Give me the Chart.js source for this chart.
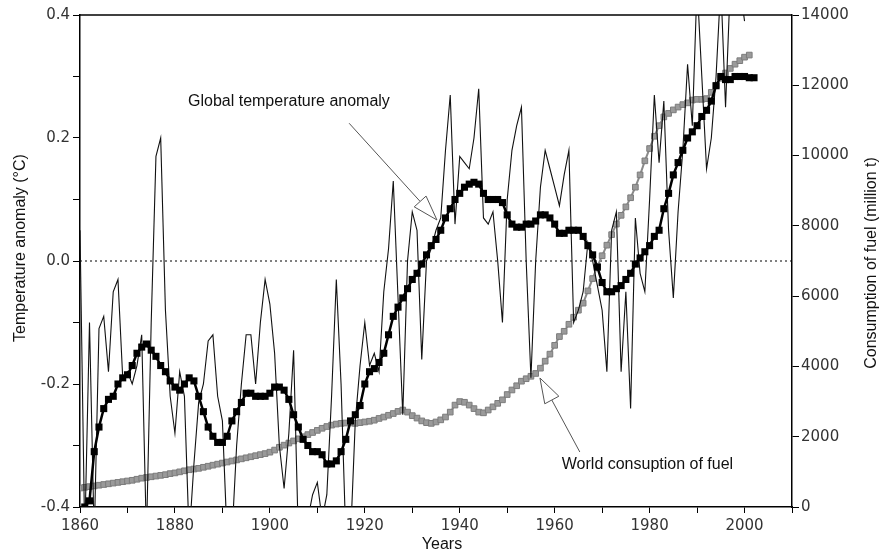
<!DOCTYPE html>
<html>
<head>
<meta charset="utf-8">
<script src="https://cdn.jsdelivr.net/npm/chart.js@4.4.1/dist/chart.umd.min.js"></script>
<style>html,body{margin:0;padding:0;background:#fff}canvas{display:block}</style>
</head>
<body>
<canvas id="chart" width="884" height="556"></canvas>
<script>
// annual temperature anomaly (°C), 1860..2000
const annualStart = 1860;
const annualAnomaly = [
  0.05, -0.45, -0.10, -0.45, -0.11, -0.09, -0.18, -0.05, -0.03, -0.19,
  -0.18, -0.20, -0.17, -0.12, -0.45, -0.10, 0.17, 0.20, -0.08, -0.22,
  -0.28, -0.18, -0.22, -0.45, -0.33, -0.23, -0.20, -0.13, -0.12, -0.22,
  -0.26, -0.45, -0.45, -0.30, -0.20, -0.12, -0.12, -0.20, -0.10, -0.03,
  -0.07, -0.15, -0.30, -0.37, -0.28, -0.145, -0.45, -0.45, -0.42, -0.38,
  -0.36, -0.42, -0.38, -0.22, -0.03, -0.20, -0.45, -0.45, -0.26, -0.17,
  -0.10, -0.17, -0.15, -0.18, -0.05, 0.02, 0.13, -0.06, -0.25, 0.00,
  0.08, 0.05, -0.16, 0.00, 0.02, 0.05, 0.07, 0.18, 0.27, 0.06,
  0.17, 0.16, 0.15, 0.20, 0.28, 0.07, 0.06, 0.08, 0.00, -0.10,
  0.10, 0.18, 0.22, 0.25, 0.00, -0.19, 0.00, 0.12, 0.18, 0.15,
  0.12, 0.09, 0.14, 0.18, -0.10, -0.08, -0.05, 0.03, 0.00, -0.04,
  -0.08, -0.18, 0.05, 0.08, -0.18, -0.05, -0.24, 0.07, -0.02, -0.05,
  0.10, 0.27, 0.16, 0.26, 0.05, -0.06, 0.08, 0.18, 0.32, 0.22,
  0.45, 0.30, 0.15, 0.20, 0.30, 0.45, 0.25, 0.45, 0.50, 0.45,
  0.39
];

// smoothed anomaly (°C), 1861..2002
const smoothStart = 1861;
const smoothedAnomaly = [
  -0.40, -0.39, -0.31, -0.27, -0.24, -0.225, -0.22, -0.20, -0.19, -0.185,
  -0.17, -0.15, -0.14, -0.135, -0.145, -0.155, -0.17, -0.18, -0.195, -0.205,
  -0.21, -0.20, -0.19, -0.195, -0.22, -0.245, -0.27, -0.285, -0.295, -0.295,
  -0.285, -0.26, -0.245, -0.23, -0.215, -0.215, -0.22, -0.22, -0.22, -0.215,
  -0.205, -0.205, -0.21, -0.225, -0.25, -0.27, -0.29, -0.30, -0.31, -0.31,
  -0.315, -0.33, -0.33, -0.325, -0.31, -0.29, -0.26, -0.25, -0.235, -0.20,
  -0.18, -0.175, -0.165, -0.15, -0.12, -0.09, -0.075, -0.06, -0.045, -0.03,
  -0.02, -0.005, 0.01, 0.025, 0.035, 0.05, 0.07, 0.085, 0.10, 0.11,
  0.12, 0.125, 0.128, 0.125, 0.11, 0.10, 0.10, 0.10, 0.095, 0.075,
  0.06, 0.055, 0.055, 0.06, 0.06, 0.065, 0.075, 0.075, 0.07, 0.06,
  0.045, 0.045, 0.05, 0.05, 0.05, 0.04, 0.025, 0.01, -0.01, -0.035,
  -0.05, -0.05, -0.045, -0.04, -0.03, -0.02, -0.005, 0.005, 0.015, 0.025,
  0.04, 0.05, 0.085, 0.11, 0.14, 0.16, 0.18, 0.20, 0.21, 0.22,
  0.235, 0.245, 0.26, 0.285, 0.30, 0.295, 0.295, 0.30, 0.30, 0.30,
  0.298, 0.298
];

// world fuel consumption (million t), 1860..2001
const fuelStart = 1860;
const fuelConsumption = [
  540, 560, 580, 600, 620, 640, 660, 680, 700, 720,
  740, 760, 790, 820, 840, 860, 880, 900, 920, 950,
  970, 1000, 1030, 1060, 1080, 1100, 1130, 1160, 1190, 1220,
  1250, 1280, 1310, 1340, 1370, 1400, 1430, 1460, 1490, 1520,
  1560, 1620, 1700, 1760, 1820, 1880, 1940, 2000, 2060, 2120,
  2180, 2240, 2290, 2330, 2360, 2380, 2390, 2390, 2380, 2400,
  2420, 2440, 2470, 2520, 2560, 2610, 2660, 2720, 2760, 2700,
  2600, 2530, 2450, 2400, 2380, 2420, 2480, 2560, 2700, 2900,
  3000, 2980, 2900, 2800, 2700, 2680, 2760, 2850, 2950, 3050,
  3200, 3330, 3450, 3580, 3650, 3720, 3800, 3950, 4150, 4350,
  4600, 4850, 5000, 5200, 5400, 5600, 5800, 6150, 6500, 6850,
  7150, 7450, 7750, 8050, 8300, 8540, 8800, 9100, 9450, 9850,
  10200, 10550, 10850, 11100, 11200, 11300, 11380, 11450, 11500, 11580,
  11600, 11600, 11620, 11800, 12000, 12200, 12350, 12480, 12600, 12700,
  12800, 12860
];

// text notes with arrows, placed in data units
const notes = [
  { text: 'Global temperature anomaly', axis: 'y', at: [1882.75, 0.2585], from: [1916.7, 0.224], tip: [1935.2, 0.0667] },
  { text: 'World consuption of fuel', axis: 'y2', at: [1961.5, 1195], from: [1965.3, 1565], tip: [1956.9, 3671] }
];

const toPoints = (start, vals) => vals.map((v, i) => ({ x: start + i, y: v }));

function drawArrow(ctx, fx, fy, tx, ty) {
  const ang = Math.atan2(ty - fy, tx - fx), len = 25, half = 8;
  const bx = tx - len * Math.cos(ang), by = ty - len * Math.sin(ang);
  ctx.strokeStyle = '#555';
  ctx.lineWidth = 1;
  ctx.beginPath(); ctx.moveTo(fx, fy); ctx.lineTo(bx, by); ctx.stroke();
  const nx = -Math.sin(ang) * half, ny = Math.cos(ang) * half;
  ctx.beginPath();
  ctx.moveTo(tx, ty); ctx.lineTo(bx + nx, by + ny); ctx.lineTo(bx - nx, by - ny);
  ctx.closePath();
  ctx.fillStyle = '#fff'; ctx.fill(); ctx.stroke();
}

const overlay = {
  id: 'overlay',
  beforeDatasetsDraw(chart) {
    const { ctx, chartArea: a, scales: { y } } = chart;
    const y0 = y.getPixelForValue(0);
    ctx.save();
    ctx.strokeStyle = '#000'; ctx.lineWidth = 1; ctx.setLineDash([2, 3]);
    ctx.beginPath(); ctx.moveTo(a.left, y0); ctx.lineTo(a.right, y0); ctx.stroke();
    ctx.restore();
  },
  afterDraw(chart) {
    const { ctx, chartArea: a, scales } = chart;
    ctx.save();
    // top frame line
    ctx.strokeStyle = '#000'; ctx.lineWidth = 1.5;
    ctx.beginPath(); ctx.moveTo(a.left, a.top); ctx.lineTo(a.right, a.top); ctx.stroke();

    ctx.font = '16px "Liberation Sans", Arial, sans-serif';
    ctx.fillStyle = '#111';
    ctx.textBaseline = 'middle';
    ctx.textAlign = 'center';
    ctx.save(); ctx.translate(21, 248); ctx.rotate(-Math.PI / 2);
    ctx.fillText('Temperature anomaly (°C)', 0, 0); ctx.restore();
    ctx.save(); ctx.translate(872, 263); ctx.rotate(-Math.PI / 2);
    ctx.fillText('Consumption of fuel (million t)', 0, 0); ctx.restore();
    ctx.fillText('Years', 442, 545);

    notes.forEach(n => {
      const ys = scales[n.axis], xs = scales.x;
      drawArrow(ctx, xs.getPixelForValue(n.from[0]), ys.getPixelForValue(n.from[1]),
        xs.getPixelForValue(n.tip[0]), ys.getPixelForValue(n.tip[1]));
      ctx.fillStyle = '#111';
      ctx.textAlign = 'left';
      ctx.fillText(n.text, xs.getPixelForValue(n.at[0]), ys.getPixelForValue(n.at[1]));
    });
    ctx.restore();
  }
};

const tickFont = { family: '"DejaVu Sans", sans-serif', size: 15 };
const axisGrid = { drawOnChartArea: false, drawTicks: true, tickLength: 7, color: '#000', lineWidth: 1 };
const axisBorder = { display: true, color: '#000', width: 1.5 };

new Chart(document.getElementById('chart'), {
  type: 'line',
  data: {
    datasets: [
      {
        label: 'Smoothed anomaly', yAxisID: 'y', data: toPoints(smoothStart, smoothedAnomaly),
        borderColor: '#000', borderWidth: 2.5, pointStyle: 'rect', pointRadius: 5,
        pointBackgroundColor: '#000', pointBorderColor: '#000', pointBorderWidth: 0, tension: 0
      },
      {
        label: 'Annual anomaly', yAxisID: 'y', data: toPoints(annualStart, annualAnomaly),
        borderColor: '#111', borderWidth: 1.1, pointRadius: 0, tension: 0
      },
      {
        label: 'Fuel', yAxisID: 'y2', data: toPoints(fuelStart, fuelConsumption),
        borderColor: '#8a8a8a', borderWidth: 2, pointStyle: 'rect', pointRadius: 4,
        pointBackgroundColor: '#9a9a9a', pointBorderColor: '#7c7c7c', pointBorderWidth: 1, tension: 0
      }
    ]
  },
  options: {
    responsive: false,
    devicePixelRatio: 1,
    animation: false,
    layout: { padding: { top: 15, left: 0, right: 0, bottom: 0 } },
    plugins: { legend: { display: false }, tooltip: { enabled: false } },
    scales: {
      x: {
        type: 'linear', min: 1860, max: 2010,
        grid: { ...axisGrid, tickLength: 6 }, border: axisBorder,
        ticks: {
          stepSize: 10, autoSkip: false, maxRotation: 0, padding: 4, color: '#333', font: tickFont,
          callback: v => (v % 20 === 0 ? String(v) : '')
        },
        afterFit: s => { s.height = 49; }
      },
      y: {
        position: 'left', min: -0.4, max: 0.4,
        grid: axisGrid, border: axisBorder,
        ticks: {
          stepSize: 0.1, autoSkip: false, padding: 3, color: '#333', font: tickFont,
          callback: v => { const r = Math.round(v * 10); return r % 2 === 0 ? (r / 10).toFixed(1) : ''; }
        },
        afterFit: s => { s.width = 80; }
      },
      y2: {
        position: 'right', min: 0, max: 14000,
        grid: axisGrid, border: axisBorder,
        ticks: { stepSize: 2000, autoSkip: false, padding: 2, color: '#333', font: tickFont, callback: v => String(v) },
        afterFit: s => { s.width = 92; }
      }
    }
  },
  plugins: [overlay]
});
</script>
</body>
</html>
